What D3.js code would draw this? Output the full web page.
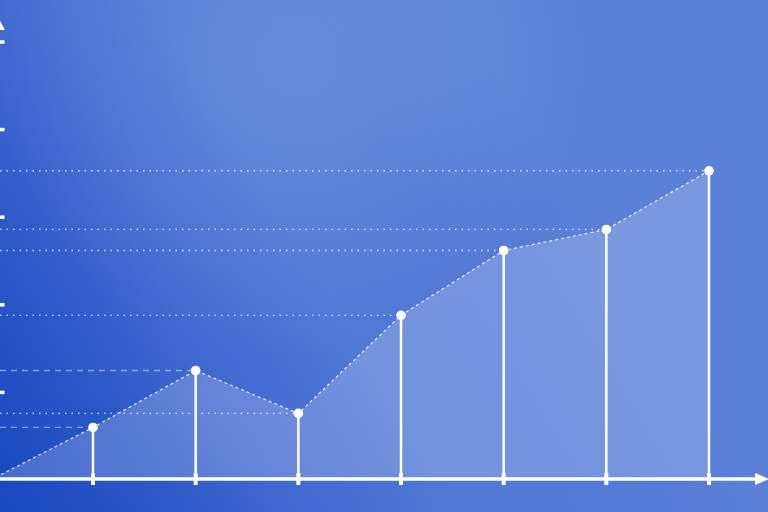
<!DOCTYPE html>
<html><head><meta charset="utf-8">
<script src="https://cdn.jsdelivr.net/npm/d3@7"></script>
<style>html,body{margin:0;padding:0;overflow:hidden;background:#3a63cf}</style>
</head><body>
<script>
const categories = [0, 1, 2, 3, 4, 5, 6, 7];
const values = [0, 0.6, 1.25, 0.76, 1.88, 2.62, 2.86, 3.53];
const yTicks = [1, 2, 3, 4, 5];

const W = 768, H = 512;
const svg = d3.select("body").append("svg").attr("width", W).attr("height", H);
const defs = svg.append("defs");
const g = defs.append("linearGradient").attr("id", "bg")
  .attr("gradientUnits", "userSpaceOnUse")
  .attr("x1", 0).attr("y1", 512).attr("x2", 560).attr("y2", 170);
[[0, "#1846bf"], [0.21, "#2a57c7"], [0.4, "#436ad1"], [0.6, "#5078d5"], [0.8, "#5379d6"], [1, "#5a80d8"]]
  .forEach(([o, c]) => g.append("stop").attr("offset", o).attr("stop-color", c));
const rg = defs.append("radialGradient").attr("id", "hl")
  .attr("gradientUnits", "userSpaceOnUse")
  .attr("cx", 290).attr("cy", 60).attr("r", 300);
rg.append("stop").attr("offset", 0).attr("stop-color", "#fff").attr("stop-opacity", 0.13);
rg.append("stop").attr("offset", 1).attr("stop-color", "#fff").attr("stop-opacity", 0);
svg.append("rect").attr("width", W).attr("height", H).attr("fill", "url(#bg)");
svg.append("rect").attr("width", W).attr("height", H).attr("fill", "url(#hl)");

const x = d3.scaleLinear().domain([1, 7]).range([93, 709]);
const y = d3.scaleLinear().domain([0, 5]).range([480, 42]);
const data = categories.map((c, i) => ({ c, v: values[i] }));

// area
svg.append("path").datum(data)
  .attr("d", d3.area().x(d => x(d.c)).y0(y(0)).y1(d => y(d.v)))
  .attr("fill", "#ffffff").attr("fill-opacity", 0.2);

// horizontal guides
const pts = data.slice(1);
svg.selectAll(".guide").data(pts).join("line")
  .attr("x1", 0).attr("x2", d => x(d.c))
  .attr("y1", d => y(d.v)).attr("y2", d => y(d.v))
  .attr("stroke", "#fff").attr("stroke-width", 1.3)
  .attr("stroke-opacity", (d, i) => (i === 0 || i === 1) ? 0.45 : 0.8)
  .attr("stroke-dasharray", (d, i) => (i === 0 || i === 1) ? "6,5" : "1.5,5");

// dashed connecting line
svg.append("path").datum(data)
  .attr("d", d3.line().x(d => x(d.c)).y(d => y(d.v)))
  .attr("fill", "none").attr("stroke", "#fff").attr("stroke-width", 1.2)
  .attr("stroke-opacity", 0.85).attr("stroke-dasharray", "3,3");

// stems
svg.selectAll(".stem").data(pts).join("line")
  .attr("x1", d => x(d.c)).attr("x2", d => x(d.c))
  .attr("y1", d => y(d.v)).attr("y2", y(0))
  .attr("stroke", "#fff").attr("stroke-width", 2.5);

// x axis
const axisY = 479;
svg.append("line").attr("x1", 0).attr("x2", 758).attr("y1", axisY).attr("y2", axisY)
  .attr("stroke", "#fff").attr("stroke-width", 3.5);
svg.append("path").attr("d", `M755,${axisY - 6}L769,${axisY}L755,${axisY + 6}Z`).attr("fill", "#fff");
svg.selectAll(".xt").data(pts).join("line")
  .attr("x1", d => x(d.c)).attr("x2", d => x(d.c))
  .attr("y1", axisY - 6).attr("y2", axisY + 6)
  .attr("stroke", "#fff").attr("stroke-width", 4);

// y axis (mostly off-canvas)
svg.append("line").attr("x1", -2).attr("x2", -2).attr("y1", 28).attr("y2", axisY)
  .attr("stroke", "#fff").attr("stroke-width", 3);
svg.append("path").attr("d", "M-9,30L-2,17L5,30Z").attr("fill", "#fff");
svg.selectAll(".yt").data(yTicks).join("line")
  .attr("x1", -4).attr("x2", 4.5).attr("y1", d => y(d)).attr("y2", d => y(d))
  .attr("stroke", "#fff").attr("stroke-width", 3.5);

// points
svg.selectAll(".pt").data(pts).join("circle")
  .attr("cx", d => x(d.c)).attr("cy", d => y(d.v)).attr("r", 4.8)
  .attr("fill", "#fff");
</script>
</body></html>
